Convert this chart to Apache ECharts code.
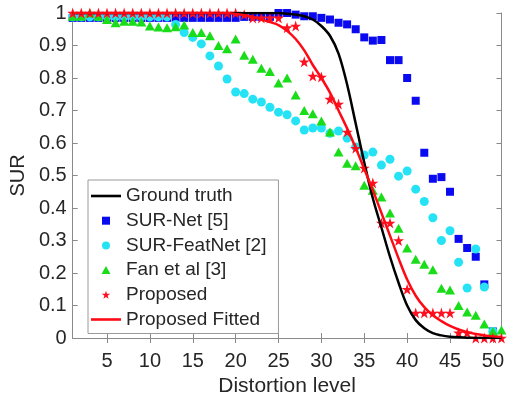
<!DOCTYPE html>
<html>
<head>
<meta charset="utf-8">
<script src="https://cdn.jsdelivr.net/npm/echarts@6/dist/echarts.min.js"></script>
<style>
html,body{margin:0;padding:0;background:#fff;}
#chart{width:507px;height:402px;}
</style>
</head>
<body>
<div id="chart"></div>
<script>
// Distortion levels
var levels = [1,2,3,4,5,6,7,8,9,10,11,12,13,14,15,16,17,18,19,20,21,22,23,24,25,26,27,28,29,30,31,32,33,34,35,36,37,38,39,40,41,42,43,44,45,46,47,48,49,50,51];
var xTickValues = [5,10,15,20,25,30,35,40,45,50];

var groundTruth = [1,1,1,1,1,1,1,1,1,1,1,1,1,1,1,1,1,1,1,1,1,1,1,1,1,0.998,0.995,0.99,0.98,0.96,0.93,0.875,0.78,0.66,0.54,0.43,0.34,0.25,0.17,0.10,0.055,0.03,0.015,0.008,0.004,0.002,0.001,0,0,0,0];

var surNet = [0.985,0.985,0.985,0.985,0.985,0.985,0.985,0.985,0.985,0.985,0.985,0.985,0.985,0.985,0.985,0.985,0.985,0.985,0.985,0.985,0.988,0.988,0.988,0.988,1.0,1.0,0.995,0.99,0.99,0.985,0.98,0.97,0.965,0.95,0.925,0.915,0.917,0.855,0.855,0.80,0.73,0.57,0.49,0.495,0.45,0.305,0.277,0.25,0.165,0.02,null];

var surFeatNet = [0.988,0.988,0.988,0.988,0.988,0.988,0.988,0.988,0.988,0.988,0.988,0.988,0.965,0.94,0.925,0.905,0.868,0.837,0.797,0.757,0.752,0.735,0.726,0.71,0.695,0.687,0.668,0.64,0.646,0.646,0.63,0.637,0.615,0.588,0.563,0.572,0.532,0.55,0.498,0.514,0.458,0.42,0.37,0.30,0.33,0.233,0.154,0.274,0.157,0.02,null];

var fanEtAl = [0.99,0.99,1.0,0.99,0.98,0.97,0.975,0.975,0.972,0.96,0.957,0.955,0.958,0.963,0.94,0.94,0.93,0.90,0.89,0.92,0.87,0.858,0.83,0.82,0.785,0.80,0.748,0.70,0.69,0.668,0.634,0.572,0.538,0.53,0.47,0.455,0.434,0.385,0.338,0.277,0.242,0.227,0.21,0.153,0.148,0.10,0.08,0.07,0.043,0.02,0.025];

var proposed = [1,1,1,1,1,1,1,1,1,1,1,1,1,1,1,1,1,1,1,1,0.995,0.985,0.985,0.985,0.985,0.955,0.96,0.85,0.806,0.803,0.735,0.72,0.634,0.584,0.523,0.477,0.354,0.354,0.30,0.15,0.077,0.077,0.077,0.077,0.077,0.016,0.016,0,0,0,0];

var proposedFitted = [1,1,1,1,1,1,1,1,1,1,1,1,1,1,1,1,1,1,1,0.997,0.993,0.988,0.98,0.972,0.963,0.945,0.92,0.885,0.84,0.80,0.755,0.70,0.645,0.585,0.52,0.455,0.385,0.315,0.245,0.18,0.13,0.095,0.07,0.052,0.037,0.026,0.018,0.012,0.008,0.005,0.003];

var seriesNames = ['Ground truth','SUR-Net [5]','SUR-FeatNet [2]','Fan et al [3]','Proposed','Proposed Fitted'];

function pairs(vals){
  var out = [];
  for (var i = 0; i < levels.length; i++) {
    if (vals[i] !== null && vals[i] !== undefined) out.push([levels[i], vals[i]]);
  }
  return out;
}

var FONT = '"Liberation Sans", Arial, Helvetica, sans-serif';
var AXC = '#8a8a8a';
var TXT = '#262626';
var STAR = 'path://M50,0 L61.2,34.5 L97.6,34.5 L68.2,55.9 L79.4,90.5 L50,69.1 L20.6,90.5 L31.8,55.9 L2.4,34.5 L38.8,34.5 Z';
var SQUARE = 'path://M0,0 L10,0 L10,10 L0,10 Z';
var DISC = 'path://M5,0 A5,5 0 1 1 4.99,0 Z';
var TRI = 'path://M5,0 L10,9 L0,9 Z';
var BAR = 'path://M0,0 L30,0 L30,2.6 L0,2.6 Z';

var chart = echarts.init(document.getElementById('chart'), null, {renderer:'canvas'});
chart.setOption({
  backgroundColor: '#ffffff',
  animation: false,
  textStyle: { fontFamily: FONT },
  grid: { left: 72, top: 13, right: 1, bottom: 64, containLabel: false },
  xAxis: [{
    type: 'value', min: 1, max: 51, position: 'bottom',
    name: 'Distortion level', nameLocation: 'middle', nameGap: 38,
    nameTextStyle: { fontFamily: FONT, fontSize: 21, color: TXT },
    axisLine: { show: true, lineStyle: { color: AXC, width: 1 } },
    axisTick: { show: true, inside: true, length: 5, customValues: xTickValues, lineStyle: { color: AXC } },
    axisLabel: { show: true, customValues: xTickValues, fontFamily: FONT, fontSize: 20, color: TXT, margin: 13 },
    splitLine: { show: false }
  },{
    type: 'value', min: 1, max: 51, position: 'top',
    axisLine: { show: true, lineStyle: { color: AXC, width: 1 } },
    axisTick: { show: true, inside: true, length: 5, customValues: xTickValues, lineStyle: { color: AXC } },
    axisLabel: { show: false },
    splitLine: { show: false }
  }],
  yAxis: [{
    type: 'value', min: 0, max: 1, interval: 0.1, position: 'left',
    name: 'SUR', nameLocation: 'middle', nameGap: 43,
    nameTextStyle: { fontFamily: FONT, fontSize: 20, color: TXT },
    axisLine: { show: true, lineStyle: { color: AXC, width: 1 } },
    axisTick: { show: true, inside: true, length: 5, lineStyle: { color: AXC } },
    axisLabel: { fontFamily: FONT, fontSize: 20, color: TXT, margin: 6,
      formatter: function(v){ return String(Number(v.toFixed(1))); } },
    splitLine: { show: false }
  },{
    type: 'value', min: 0, max: 1, interval: 0.1, position: 'right',
    axisLine: { show: true, lineStyle: { color: AXC, width: 1 } },
    axisTick: { show: true, inside: true, length: 5, lineStyle: { color: AXC } },
    axisLabel: { show: false },
    splitLine: { show: false }
  }],
  legend: {
    orient: 'vertical', left: 88, top: 180,
    padding: [6, 12, 4, 3],
    itemWidth: 30, itemHeight: 8, itemGap: 4.7,
    symbolKeepAspect: true,
    backgroundColor: '#ffffff', borderColor: '#9a9a9a', borderWidth: 1,
    textStyle: { fontFamily: FONT, fontSize: 19, color: TXT, lineHeight: 20 },
    data: [
      { name: seriesNames[0], icon: BAR },
      { name: seriesNames[1], icon: SQUARE },
      { name: seriesNames[2], icon: DISC },
      { name: seriesNames[3], icon: TRI },
      { name: seriesNames[4], icon: STAR },
      { name: seriesNames[5], icon: BAR }
    ]
  },
  series: [
    { name: seriesNames[0], type: 'line', data: pairs(groundTruth), symbol: 'none',
      smooth: 0.35, lineStyle: { color: '#000000', width: 2.5 }, itemStyle: { color: '#000000' }, z: 3 },
    { name: seriesNames[1], type: 'scatter', data: pairs(surNet), symbol: 'rect', symbolSize: 8,
      itemStyle: { color: '#0a0af0', opacity: 1 }, z: 2 },
    { name: seriesNames[2], type: 'scatter', data: pairs(surFeatNet), symbol: 'circle', symbolSize: 9,
      itemStyle: { color: '#25e3f5', opacity: 1 }, z: 2 },
    { name: seriesNames[3], type: 'scatter', data: pairs(fanEtAl), symbol: 'triangle', symbolSize: [10, 9],
      itemStyle: { color: '#18dd18', opacity: 1 }, z: 2 },
    { name: seriesNames[4], type: 'scatter', data: pairs(proposed), symbol: STAR, symbolSize: 11,
      itemStyle: { color: '#ff1020', opacity: 1 }, z: 2 },
    { name: seriesNames[5], type: 'line', data: pairs(proposedFitted), symbol: 'none',
      smooth: 0.35, lineStyle: { color: '#ff0a14', width: 2.5 }, itemStyle: { color: '#ff0a14' }, z: 3 }
  ]
});
</script>
</body>
</html>
